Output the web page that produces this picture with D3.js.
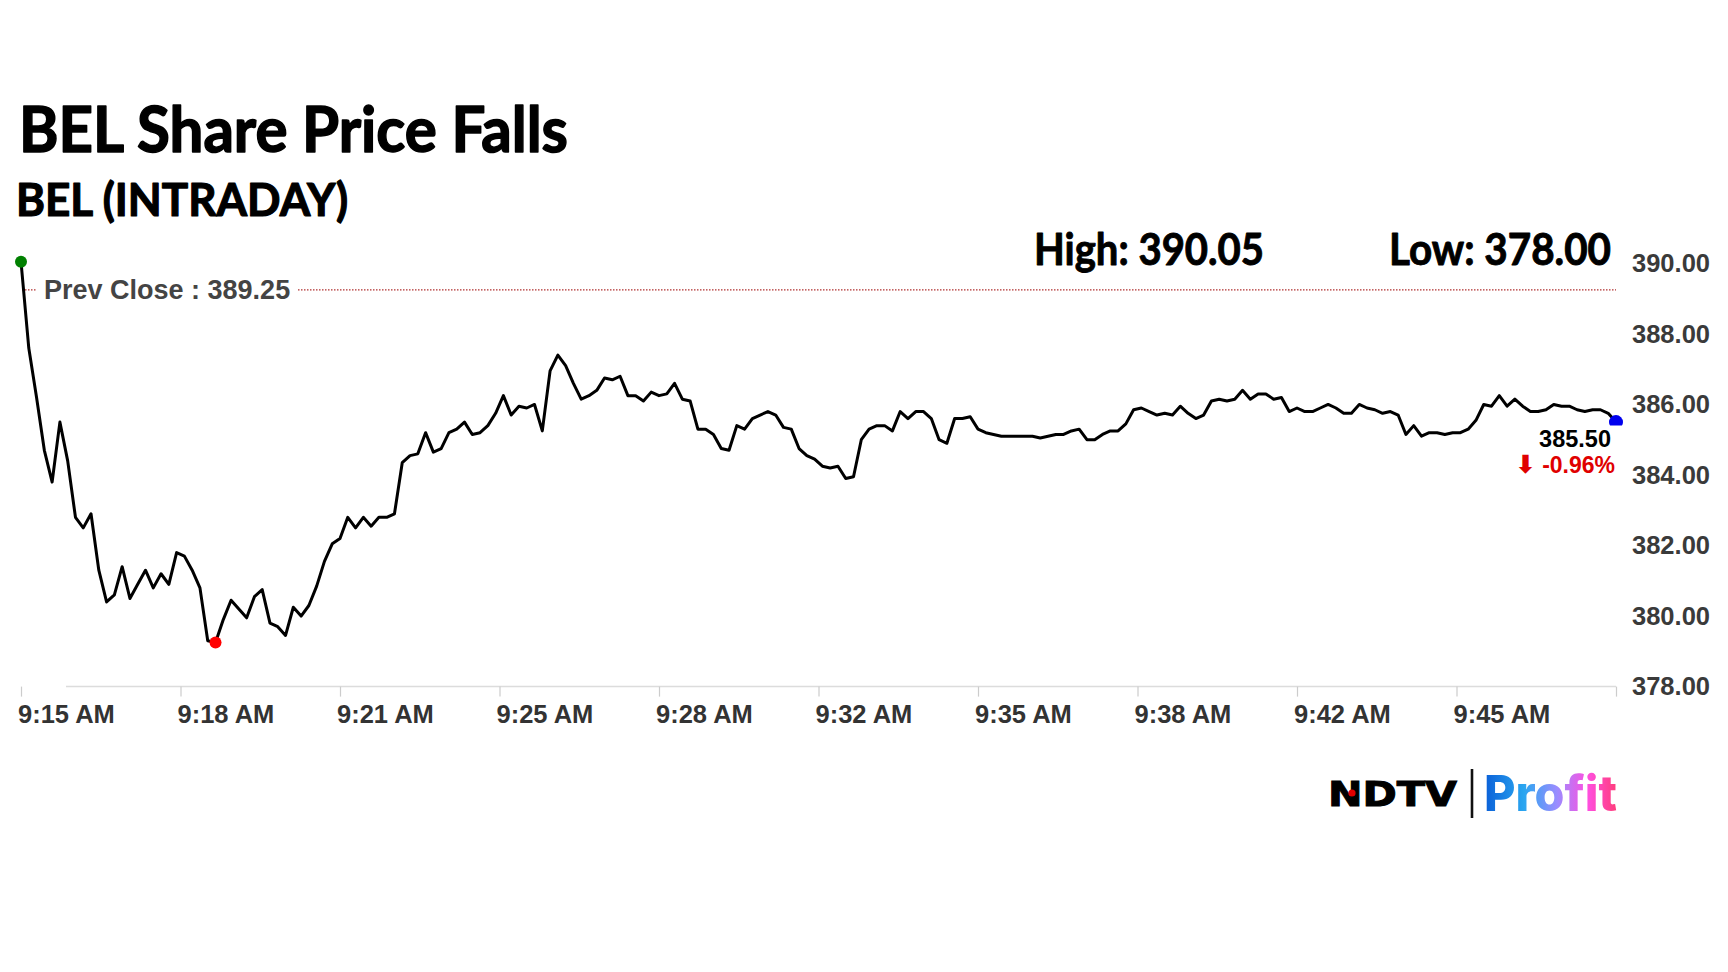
<!DOCTYPE html>
<html><head><meta charset="utf-8">
<script src="https://cdn.jsdelivr.net/npm/d3@7"></script>
<style>html,body{margin:0;padding:0;background:#fff;} svg{display:block;}</style>
</head><body><svg id="chart" width="1728" height="972"></svg>
<script>
// ---- data (10-second intraday prices, 9:15:00 → 9:49:10) ----
const prices = [
390.05,387.6,386.2,384.7,383.8,385.5,384.4,382.8,382.5,382.9,
381.3,380.4,380.6,381.4,380.5,380.9,381.3,380.8,381.2,380.9,
381.8,381.7,381.3,380.8,379.3,379.25,379.9,380.45,380.2,379.95,
380.55,380.75,379.8,379.7,379.45,380.25,380.0,380.3,380.85,381.55,
382.05,382.2,382.8,382.5,382.8,382.55,382.8,382.8,382.9,384.35,
384.55,384.6,385.2,384.65,384.75,385.2,385.3,385.5,385.15,385.2,
385.4,385.75,386.25,385.7,385.95,385.9,386.0,385.25,386.95,387.4,
387.1,386.6,386.15,386.25,386.4,386.75,386.7,386.8,386.25,386.25,
386.1,386.35,386.25,386.3,386.6,386.15,386.1,385.3,385.3,385.15,
384.75,384.7,385.4,385.3,385.6,385.7,385.8,385.7,385.35,385.3,
384.75,384.55,384.45,384.25,384.2,384.25,383.9,383.95,385.0,385.3,
385.4,385.4,385.25,385.8,385.6,385.8,385.8,385.6,385.0,384.9,
385.6,385.6,385.65,385.3,385.2,385.15,385.1,385.1,385.1,385.1,
385.1,385.05,385.1,385.15,385.15,385.25,385.3,385.0,385.0,385.15,
385.25,385.25,385.45,385.85,385.9,385.8,385.7,385.75,385.7,385.95,
385.75,385.6,385.7,386.1,386.15,386.1,386.15,386.4,386.15,386.3,
386.3,386.15,386.2,385.8,385.9,385.8,385.8,385.9,386.0,385.9,
385.75,385.75,386.0,385.9,385.85,385.75,385.8,385.7,385.15,385.4,
385.1,385.2,385.2,385.15,385.2,385.2,385.3,385.55,386.0,385.95,
386.25,385.95,386.15,385.95,385.8,385.8,385.85,386.0,385.95,385.95,
385.85,385.8,385.85,385.85,385.75,385.5
];
const xTickLabels = ["9:15 AM","9:18 AM","9:21 AM","9:25 AM","9:28 AM","9:32 AM","9:35 AM","9:38 AM","9:42 AM","9:45 AM",""];
const yTickValues = [378,380,382,384,386,388,390];
const prevClose = 389.25;
const titleText = "BEL Share Price Falls";
const subtitleText = "BEL (INTRADAY)";
const highText = "High: 390.05";
const lowText = "Low: 378.00";
const lastPriceText = "385.50";
const changeText = "-0.96%";

// ---- layout ----
const svg = d3.select("#chart");
const x = d3.scaleLinear().domain([0, prices.length - 1]).range([21, 1616]);
const y = d3.scaleLinear().domain([378, 390]).range([686.6, 263.4]);

function heavy(sel, w) {
  return sel.attr("stroke", "#000").attr("stroke-width", w).attr("stroke-linejoin", "round").attr("paint-order", "stroke");
}
// titles
heavy(svg.append("text").attr("x", 19).attr("y", 152).attr("font-family", "Lato").attr("font-weight", 700)
  .attr("font-size", 63).attr("textLength", 549).attr("lengthAdjust", "spacingAndGlyphs").attr("fill", "#000").text(titleText), 1.5);
heavy(svg.append("text").attr("x", 16).attr("y", 216).attr("font-family", "Lato").attr("font-weight", 700)
  .attr("font-size", 46).attr("textLength", 332).attr("lengthAdjust", "spacingAndGlyphs").attr("fill", "#000").text(subtitleText), 1.2);
heavy(svg.append("text").attr("x", 1034).attr("y", 265).attr("font-family", "Lato").attr("font-weight", 700)
  .attr("font-size", 43).attr("textLength", 230).attr("lengthAdjust", "spacingAndGlyphs").attr("fill", "#000").text(highText), 0.9);
heavy(svg.append("text").attr("x", 1389).attr("y", 265).attr("font-family", "Lato").attr("font-weight", 700)
  .attr("font-size", 43).attr("textLength", 222).attr("lengthAdjust", "spacingAndGlyphs").attr("fill", "#000").text(lowText), 0.9);

// x axis
const xTickVals = d3.range(xTickLabels.length).map(k => k * (prices.length - 1) / (xTickLabels.length - 1));
const gx = svg.append("g").attr("transform", `translate(0,${y(378)})`);
gx.append("line").attr("x1", 66).attr("x2", 1616).attr("y1", 0).attr("y2", 0).attr("stroke", "#dcdcdc").attr("stroke-width", 1.5);
const xAxis = d3.axisBottom(x).tickValues(xTickVals).tickSize(10).tickSizeOuter(0)
  .tickFormat((d, i) => xTickLabels[i]);
gx.call(xAxis);
gx.select(".domain").remove();
gx.selectAll(".tick line").attr("stroke", "#cccccc").attr("stroke-width", 1.2);
gx.selectAll(".tick text").attr("text-anchor", "start").attr("dx", -3.5).attr("dy", 0).attr("y", 36)
  .attr("font-family", "Liberation Sans, Arial, sans-serif").attr("font-weight", 700).attr("font-size", 25.5).attr("fill", "#333");

// y axis labels (right side)
const gy = svg.append("g").attr("transform", `translate(1616,0)`);
const yAxis = d3.axisRight(y).tickValues(yTickValues).tickSize(0).tickPadding(16).tickFormat(d3.format(".2f"));
gy.call(yAxis);
gy.select(".domain").remove();
gy.selectAll(".tick text").attr("font-family", "Liberation Sans, Arial, sans-serif").attr("font-weight", 700)
  .attr("font-size", 25.5).attr("fill", "#3a3a3a");

// prev close line
svg.append("line").attr("x1", 22).attr("x2", 1616).attr("y1", y(prevClose)).attr("y2", y(prevClose))
  .attr("stroke", "#b03030").attr("stroke-width", 1.2).attr("stroke-dasharray", "1.5,1.5");
svg.append("rect").attr("x", 36).attr("y", y(prevClose) - 16).attr("width", 262).attr("height", 32).attr("fill", "#fff");
svg.append("text").attr("x", 44).attr("y", y(prevClose)).attr("dy", "0.35em")
  .attr("font-family", "Liberation Sans, Arial, sans-serif").attr("font-weight", 700).attr("font-size", 27)
  .attr("fill", "#444").text("Prev Close : " + prevClose.toFixed(2));

// price line
const line = d3.line().x((d, i) => x(i)).y(d => y(d));
svg.append("path").datum(prices).attr("d", line).attr("fill", "none").attr("stroke", "#000")
  .attr("stroke-width", 3).attr("stroke-linejoin", "round");

// markers
const minIdx = d3.minIndex(prices);
const last = prices.length - 1;
svg.append("circle").attr("cx", x(0)).attr("cy", y(prices[0])).attr("r", 6).attr("fill", "#008000");
svg.append("circle").attr("cx", x(minIdx)).attr("cy", y(prices[minIdx])).attr("r", 6).attr("fill", "#ff0000");
svg.append("clipPath").attr("id", "endclip").append("rect").attr("x", 1600).attr("y", 400).attr("width", 40).attr("height", 25.5);
svg.append("circle").attr("cx", x(last)).attr("cy", y(prices[last])).attr("r", 7).attr("fill", "#0000ee")
  .attr("clip-path", "url(#endclip)");

// last price labels
svg.append("text").attr("x", 1611).attr("y", 447).attr("text-anchor", "end")
  .attr("font-family", "Liberation Sans, Arial, sans-serif").attr("font-weight", 700).attr("font-size", 23.5)
  .attr("fill", "#000").text(lastPriceText);
const ct = svg.append("text").attr("x", 1615).attr("y", 473).attr("text-anchor", "end")
  .attr("font-family", "Liberation Sans, Arial, sans-serif").attr("font-weight", 700).attr("font-size", 23).attr("fill", "#e00000");
ct.append("tspan").attr("font-family", "DejaVu Sans").attr("font-size", 25).text("⬇");
ct.append("tspan").attr("dx", 6).text(changeText);

// logo
const logo = svg.append("g");
logo.append("text").attr("x", 1328).attr("y", 806).attr("font-family", "DejaVu Sans, Liberation Sans").attr("font-weight", 700)
  .attr("font-size", 34).attr("textLength", 129).attr("lengthAdjust", "spacingAndGlyphs").attr("fill", "#000")
  .attr("stroke", "#000").attr("stroke-width", 1).text("NDTV");
logo.append("circle").attr("cx", 1352).attr("cy", 793).attr("r", 3.6).attr("fill", "#e00000");
logo.append("line").attr("x1", 1472).attr("x2", 1472).attr("y1", 769).attr("y2", 818).attr("stroke", "#111").attr("stroke-width", 2.6);
const defs = svg.append("defs");
const grad = defs.append("linearGradient").attr("id", "pg").attr("x1", "0").attr("x2", "1").attr("y1", "0").attr("y2", "0");
grad.append("stop").attr("offset", "0%").attr("stop-color", "#0a5fd8");
grad.append("stop").attr("offset", "30%").attr("stop-color", "#2aa6f0");
grad.append("stop").attr("offset", "55%").attr("stop-color", "#9b8cff");
grad.append("stop").attr("offset", "78%").attr("stop-color", "#ff4fe0");
grad.append("stop").attr("offset", "100%").attr("stop-color", "#ff3d7a");
logo.append("text").attr("x", 1484).attr("y", 811).attr("font-family", "Inter, Open Sans").attr("font-weight", 800)
  .attr("font-size", 50).attr("textLength", 133).attr("lengthAdjust", "spacingAndGlyphs").attr("fill", "url(#pg)").text("Profit");
</script></body></html>
